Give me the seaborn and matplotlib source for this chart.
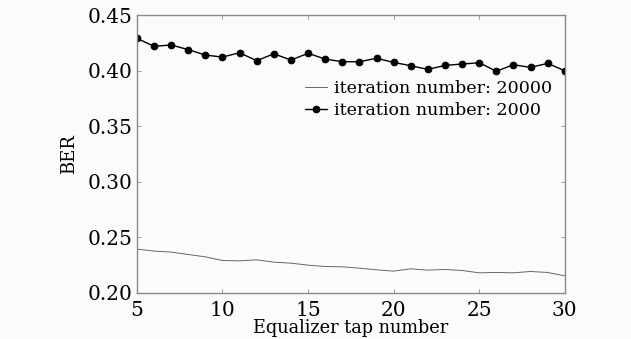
import matplotlib
matplotlib.use("Agg")
import matplotlib.pyplot as plt
import seaborn as sns
import pandas as pd

taps = list(range(5, 31))
ber_20000 = [0.2392, 0.2374, 0.2365, 0.2343, 0.2322, 0.2289, 0.2286, 0.2295, 0.2274, 0.2265,
             0.2247, 0.2235, 0.2232, 0.2220, 0.2205, 0.2193, 0.2214, 0.2202, 0.2208, 0.2199,
             0.2178, 0.2181, 0.2178, 0.2190, 0.2181, 0.2151]
ber_2000 = [0.4292, 0.4220, 0.4232, 0.4190, 0.4141, 0.4123, 0.4162, 0.4090, 0.4153, 0.4096,
            0.4157, 0.4105, 0.4081, 0.4081, 0.4112, 0.4075, 0.4045, 0.4012, 0.4048, 0.4060,
            0.4072, 0.3995, 0.4054, 0.4030, 0.4066, 0.4000]
label_20000 = "iteration number: 20000"
label_2000 = "iteration number: 2000"
x_ticks = [5, 10, 15, 20, 25, 30]
y_ticks = [0.20, 0.25, 0.30, 0.35, 0.40, 0.45]

sns.set_theme(style="ticks")
plt.rcParams["font.family"] = ["DejaVu Serif"]
plt.rcParams["mathtext.fontset"] = "dejavuserif"
plt.rcParams["text.color"] = "black"
plt.rcParams["axes.labelcolor"] = "black"
plt.rcParams["xtick.labelcolor"] = "black"
plt.rcParams["ytick.labelcolor"] = "black"

df = pd.DataFrame({"tap": taps, "b20000": ber_20000, "b2000": ber_2000})

fig = plt.figure(figsize=(6.31, 3.39), dpi=100, facecolor="#fbfbfb")
ax = fig.add_axes([0.217, 0.137, 0.678, 0.818])
ax.set_facecolor("#fbfbfb")

sns.lineplot(data=df, x="tap", y="b20000", ax=ax, color="#666666", linewidth=0.7,
             label=label_20000)
sns.lineplot(data=df, x="tap", y="b2000", ax=ax, color="black", linewidth=1.0,
             marker="o", markersize=4.8, markeredgecolor="black", label=label_2000)

ax.set_xlim(5, 30)
ax.set_ylim(0.20, 0.45)
ax.set_xticks(x_ticks)
ax.set_yticks(y_ticks)
ax.set_yticklabels([f"{v:.2f}" for v in y_ticks])
ax.set_xlabel("Equalizer tap number", fontsize=12.8, labelpad=-1)
ax.set_ylabel("BER", fontsize=13, labelpad=7)
ax.tick_params(axis="both", direction="in", length=3, width=0.6, color="#888888",
               labelsize=14.5, top=True, right=True)
ax.tick_params(axis="x", pad=6)
ax.tick_params(axis="y", pad=3)
for s in ax.spines.values():
    s.set_color("#888888")
    s.set_linewidth(1.0)

leg = ax.legend(loc="upper right", bbox_to_anchor=(1.0, 0.81), frameon=False,
                fontsize=12.6, handlelength=1.3, handletextpad=0.4, labelspacing=0.3,
                borderaxespad=0.3)

fig.savefig("out.png", dpi=100, facecolor=fig.get_facecolor())
